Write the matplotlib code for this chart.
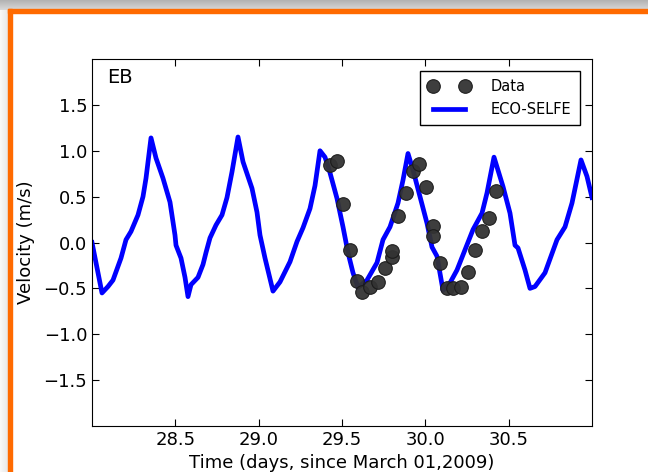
import numpy as np
import matplotlib
matplotlib.use("Agg")
import matplotlib.pyplot as plt
from matplotlib.patches import Rectangle

# model (ECO-SELFE) velocity, days since March 01 2009
model_t = [28.000, 28.060, 28.096, 28.126, 28.174, 28.204, 28.234, 28.276, 28.306, 28.324,
           28.354, 28.384, 28.426, 28.468, 28.498, 28.504, 28.534, 28.558, 28.576, 28.594,
           28.636, 28.666, 28.684, 28.708, 28.744, 28.780, 28.810, 28.840, 28.876, 28.906,
           28.960, 28.990, 29.008, 29.038, 29.086, 29.128, 29.188, 29.230, 29.266, 29.308,
           29.338, 29.368, 29.398, 29.428, 29.470, 29.506, 29.536, 29.566, 29.596, 29.650,
           29.710, 29.746, 29.788, 29.836, 29.866, 29.896, 29.926, 29.968, 30.010, 30.040,
           30.070, 30.106, 30.148, 30.190, 30.238, 30.286, 30.340, 30.370, 30.412, 30.466,
           30.508, 30.538, 30.556, 30.598, 30.628, 30.658, 30.718, 30.790, 30.838, 30.880,
           30.934, 30.970, 31.000]
model_v = [0.00, -0.55, -0.48, -0.41, -0.17, 0.03, 0.12, 0.30, 0.50, 0.70,
           1.14, 0.92, 0.70, 0.44, 0.08, -0.03, -0.17, -0.38, -0.59, -0.46,
           -0.38, -0.24, -0.11, 0.05, 0.19, 0.30, 0.49, 0.77, 1.15, 0.88,
           0.59, 0.33, 0.08, -0.17, -0.53, -0.43, -0.21, 0.01, 0.16, 0.37,
           0.62, 1.00, 0.93, 0.76, 0.48, 0.17, -0.11, -0.33, -0.49, -0.41,
           -0.22, 0.03, 0.17, 0.43, 0.68, 0.97, 0.79, 0.50, 0.21, -0.05,
           -0.15, -0.52, -0.44, -0.30, -0.08, 0.14, 0.32, 0.54, 0.93, 0.61,
           0.32, -0.03, -0.06, -0.30, -0.50, -0.48, -0.33, 0.03, 0.17, 0.43,
           0.90, 0.72, 0.49]

# observations
data_t = [29.428, 29.470, 29.506, 29.548, 29.590, 29.620, 29.668, 29.716, 29.758, 29.800,
          29.800, 29.836, 29.884, 29.926, 29.962, 30.004, 30.046, 30.046, 30.088, 30.130,
          30.166, 30.214, 30.256, 30.298, 30.340, 30.382, 30.424]
data_v = [0.845, 0.888, 0.42, -0.08, -0.42, -0.54, -0.49, -0.43, -0.28, -0.16,
          -0.09, 0.29, 0.54, 0.78, 0.855, 0.605, 0.18, 0.07, -0.22, -0.50,
          -0.50, -0.49, -0.32, -0.08, 0.13, 0.27, 0.56]

xticks = [28.5, 29.0, 29.5, 30.0, 30.5]
yticks = [-1.5, -1.0, -0.5, 0.0, 0.5, 1.0, 1.5]

W, H = 648, 472
fig = plt.figure(figsize=(W / 100, H / 100), dpi=100)
fig.patch.set_facecolor("white")

# screenshot frame: grey shading and orange border
top = fig.add_axes([0, 1 - 10 / H, 1, 10 / H])
grad = np.linspace(0.70, 0.84, 10).reshape(-1, 1)
top.imshow(np.repeat(grad, 50, axis=1), cmap="gray", vmin=0, vmax=1, aspect="auto")
top.axis("off")
left = fig.add_axes([0, 0, 9 / W, 1 - 10 / H])
lg = np.linspace(0.97, 0.9, 9).reshape(1, -1)
left.imshow(np.repeat(lg, 50, axis=0), cmap="gray", vmin=0, vmax=1, aspect="auto")
left.axis("off")
fig.patches.append(Rectangle((8 / W, 0), 4 / W, 1 - 9 / H, transform=fig.transFigure,
                             color="#ff6a00", zorder=5))
fig.patches.append(Rectangle((8 / W, 1 - 13 / H), 1, 4 / H, transform=fig.transFigure,
                             color="#ff6a00", zorder=5))

ax = fig.add_axes([92 / W, 1 - 426 / H, 500 / W, 367 / H])
ax.plot(data_t, data_v, "o", ms=9.8, mfc="#333333", mec="#1a1a1a", mew=0.8,
        alpha=0.95, label="Data", zorder=3)
ax.plot(model_t, model_v, "-", color="blue", lw=3.4, label="ECO-SELFE", zorder=2)

ax.set_xlim(28, 31)
ax.set_ylim(-2, 2)
ax.set_xticks(xticks)
ax.set_yticks(yticks)
ax.tick_params(labelsize=13, direction="in", length=5, width=0.8, top=True, right=True)
ax.set_xlabel("Time (days, since March 01,2009)", fontsize=13, labelpad=4)
ax.set_ylabel("Velocity (m/s)", fontsize=13, labelpad=6)
ax.text(0.03, 0.975, "EB", transform=ax.transAxes, fontsize=14, va="top", ha="left")

leg = ax.legend(loc="upper right", numpoints=2, fontsize=10.5, handlelength=2.8,
                handletextpad=1.45, labelspacing=0.5, borderpad=0.6,
                borderaxespad=0.8, fancybox=False, framealpha=1, edgecolor="black")
leg.get_frame().set_linewidth(1.0)

fig.savefig("out.png", dpi=100)
